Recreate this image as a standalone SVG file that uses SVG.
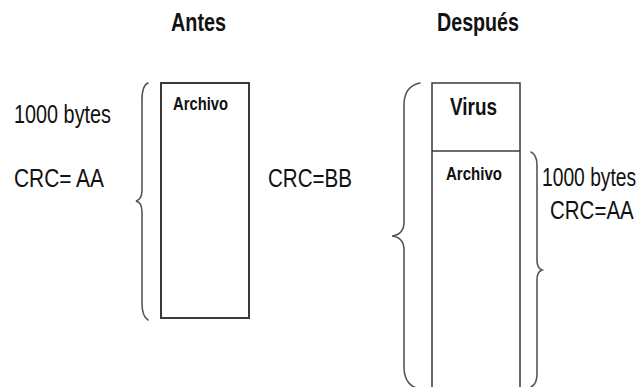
<svg xmlns="http://www.w3.org/2000/svg" width="640" height="387" viewBox="0 0 640 387">
<style>
  .t { font-family: "Liberation Sans", Arial, sans-serif; fill: #111; }
  .big { font-size: 25px; }
  .b { font-weight: bold; }
  .box { fill: #fff; stroke: #3a3a3a; }
  .brace { fill: none; stroke: #555; stroke-width: 1.6; stroke-linecap: round; }
</style>
<rect width="640" height="387" fill="#fff"/>
<g id="title-antes"><text class="t big b" x="171" y="31" textLength="55" lengthAdjust="spacingAndGlyphs">Antes</text></g>
<g id="title-despues"><text class="t big b" x="437" y="31" textLength="82" lengthAdjust="spacingAndGlyphs">Después</text></g>
<g id="left-labels">
  <text class="t big" x="14" y="123" textLength="97" lengthAdjust="spacingAndGlyphs">1000 bytes</text>
  <text class="t big" x="14" y="187" textLength="90" lengthAdjust="spacingAndGlyphs">CRC= AA</text>
</g>
<g id="mid-label"><text class="t big" x="268" y="187" textLength="84" lengthAdjust="spacingAndGlyphs">CRC=BB</text></g>
<g id="archivo-antes">
  <rect class="box" x="161" y="83" width="88" height="235" stroke-width="2"/>
  <text class="t b" font-size="18" x="173" y="110" textLength="55" lengthAdjust="spacingAndGlyphs">Archivo</text>
</g>
<g id="archivo-despues">
  <rect class="box" x="432" y="83" width="88" height="320" stroke-width="1.5"/>
  <line x1="432" y1="151" x2="520" y2="151" stroke="#3a3a3a" stroke-width="1.5"/>
  <text class="t b" font-size="23" x="450" y="115" textLength="47" lengthAdjust="spacingAndGlyphs">Virus</text>
  <text class="t b" font-size="18" x="446" y="180" textLength="56" lengthAdjust="spacingAndGlyphs">Archivo</text>
</g>
<g id="right-labels">
  <text class="t big" transform="translate(542,186) scale(0.77,1)">1000 bytes</text>
  <text class="t big" transform="translate(550,219) scale(0.82,1)">CRC=AA</text>
</g>
<g id="braces">
  <path class="brace" d="M148,83 C143,85 142,92 142,100 L142,190 C142,197 140,200 136,201 C140,202 142,205 142,212 L142,303 C142,311 143,317 148,320"/>
  <path class="brace" d="M420,83 C410,85 404,92 404,105 L404,222 C404,230 400,235 392,236 C400,237 404,242 404,250 L404,367 C404,380 410,387 420,389"/>
  <path class="brace" d="M531,152 C535,154 537,158 537,165 L537,260 C537,266 539,269 542,270 C539,271 537,274 537,280 L537,374 C537,381 535,385 531,387"/>
</g>
</svg>
